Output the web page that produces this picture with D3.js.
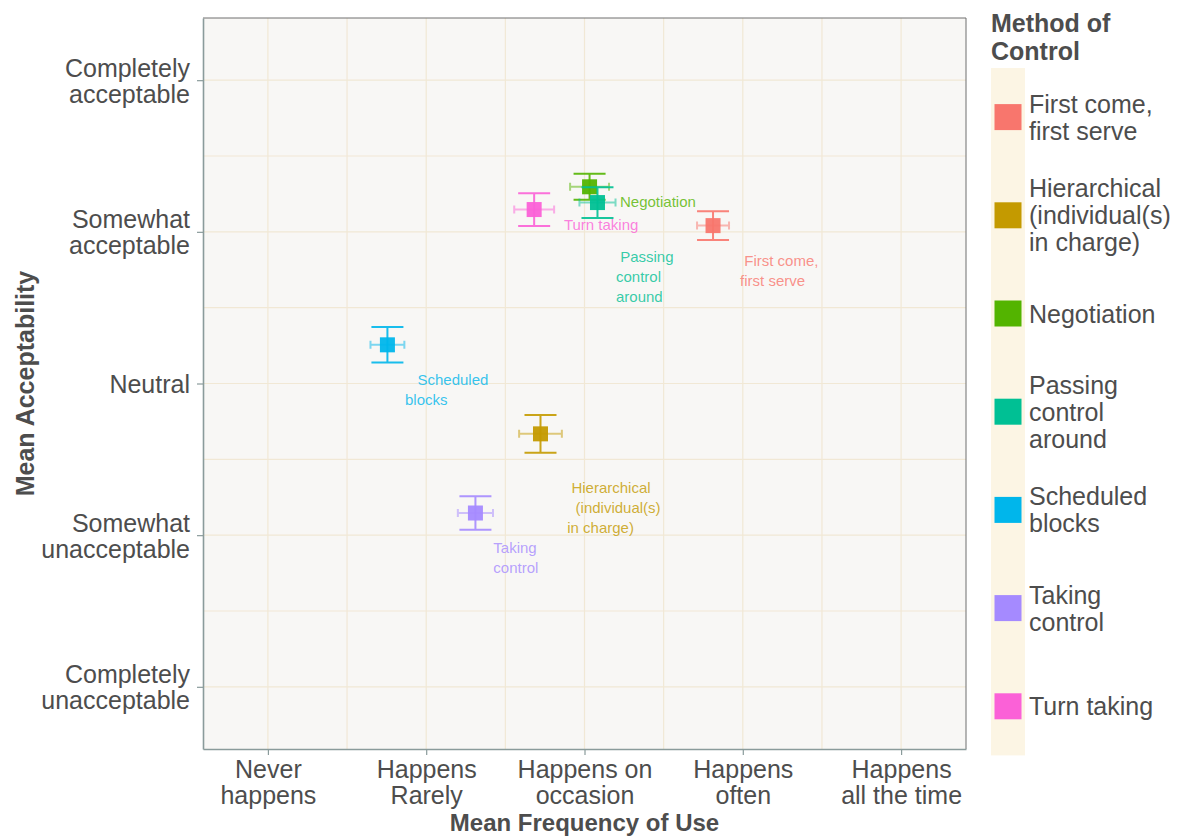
<!DOCTYPE html>
<html>
<head>
<meta charset="utf-8">
<script src="https://cdn.jsdelivr.net/npm/d3@7"></script>
<style>
  html, body { margin: 0; padding: 0; background: #ffffff; }
  svg { display: block; font-family: "Liberation Sans", Arial, Helvetica, sans-serif; }
  .lbl { white-space: pre; }
</style>
</head>
<body>
<svg id="chart" width="1189" height="836"></svg>
<script>
// Methods of control, in legend order
const methods = [
  "First come, first serve",
  "Hierarchical (individual(s) in charge)",
  "Negotiation",
  "Passing control around",
  "Scheduled blocks",
  "Taking control",
  "Turn taking"
];
const methodColors = ["#F8766D", "#C49A00", "#53B400", "#00C094", "#00B6EB", "#A58AFF", "#FB61D7"];

// Mean frequency of use (1 = never ... 5 = all the time) and its standard error
const meanFrequency = [3.812, 2.722, 3.032, 3.082, 1.755, 2.311, 2.682];
const seFrequency   = [0.101, 0.135, 0.123, 0.114, 0.107, 0.111, 0.126];

// Mean acceptability (1 = completely unacceptable ... 5 = completely acceptable) and its standard error
const meanAcceptability = [4.041, 2.668, 4.297, 4.193, 3.255, 2.146, 4.147];
const seAcceptability   = [0.094, 0.125, 0.086, 0.101, 0.117, 0.110, 0.108];

// Point annotations: text lines and where each block of text starts (data units)
const annotationLines = [
  [" First come,", "first serve"],
  [" Hierarchical", "  (individual(s)", "in charge)"],
  ["Negotiation"],
  [" Passing", "control", "around"],
  ["   Scheduled", "blocks"],
  ["Taking", "control"],
  ["Turn taking"]
];
const annotationX = [3.983, 2.891, 3.224, 3.199, 1.866, 2.424, 2.870];
const annotationY = [3.774, 2.279, 4.164, 3.801, 2.993, 1.883, 4.012];

// Axis tick labels
const freqTicks = [1, 2, 3, 4, 5];
const freqTickLabels = [["Never", "happens"], ["Happens", "Rarely"], ["Happens on", "occasion"], ["Happens", "often"], ["Happens", "all the time"]];
const accTicks = [1, 2, 3, 4, 5];
const accTickLabels = [["Completely", "unacceptable"], ["Somewhat", "unacceptable"], ["Neutral"], ["Somewhat", "acceptable"], ["Completely", "acceptable"]];

// Legend labels, wrapped
const legendLines = [
  ["First come,", "first serve"],
  ["Hierarchical", "(individual(s)", "in charge)"],
  ["Negotiation"],
  ["Passing", "control", "around"],
  ["Scheduled", "blocks"],
  ["Taking", "control"],
  ["Turn taking"]
];

const svg = d3.select("#chart");
const panel = { left: 203, right: 966, top: 18, bottom: 749 };

const x = d3.scaleLinear().domain([0.59, 5.41]).range([panel.left, panel.right]);
const y = d3.scaleLinear().domain([0.59, 5.41]).range([panel.bottom, panel.top]);
const color = d3.scaleOrdinal().domain(methods).range(methodColors);

const data = methods.map((m, i) => ({
  method: m,
  fx: meanFrequency[i], fse: seFrequency[i],
  ay: meanAcceptability[i], ase: seAcceptability[i],
  lines: annotationLines[i], lx: annotationX[i], ly: annotationY[i]
}));

// Panel background
svg.append("rect")
  .attr("x", panel.left).attr("y", panel.top)
  .attr("width", panel.right - panel.left).attr("height", panel.bottom - panel.top)
  .attr("fill", "#f8f7f5");

// Grid lines: major at ticks, minor halfway between
const gridColor = "#f1e8d5";
const minor = [1.5, 2.5, 3.5, 4.5];
const grid = svg.append("g");
grid.selectAll(".gvx").data(freqTicks.concat(minor)).join("line")
  .attr("x1", d => x(d)).attr("x2", d => x(d))
  .attr("y1", panel.top).attr("y2", panel.bottom)
  .attr("stroke", gridColor).attr("stroke-width", 1.2);
grid.selectAll(".ghy").data(accTicks.concat(minor)).join("line")
  .attr("y1", d => y(d)).attr("y2", d => y(d))
  .attr("x1", panel.left).attr("x2", panel.right)
  .attr("stroke", gridColor).attr("stroke-width", 1.2);

// Panel border (top / right)
svg.append("path")
  .attr("d", `M${panel.left},${panel.top}H${panel.right}V${panel.bottom}`)
  .attr("fill", "none").attr("stroke", "#6e6e6e").attr("stroke-width", 1);

// Axes
const axisColor = "#8a9b9b";
const xAxis = svg.append("g").attr("transform", `translate(0,${panel.bottom})`)
  .call(d3.axisBottom(x).tickValues(freqTicks).tickSize(6).tickSizeOuter(0).tickFormat(""));
const yAxis = svg.append("g").attr("transform", `translate(${panel.left},0)`)
  .call(d3.axisLeft(y).tickValues(accTicks).tickSize(6).tickSizeOuter(0).tickFormat(""));
[xAxis, yAxis].forEach(a => {
  a.select(".domain").attr("stroke", axisColor).attr("stroke-width", 1.6);
  a.selectAll(".tick line").attr("stroke", axisColor).attr("stroke-width", 1.2);
});

const tickFont = 25, tickLH = 26;
// x tick labels
xAxis.selectAll(".tick").each(function(d, i) {
  const t = d3.select(this).append("text")
    .attr("fill", "#4d4d4d").attr("font-size", tickFont).attr("text-anchor", "middle");
  freqTickLabels[i].forEach((line, j) => {
    t.append("tspan").attr("x", 0).attr("y", 29 + j * tickLH).text(line);
  });
});
// y tick labels
yAxis.selectAll(".tick").each(function(d, i) {
  const lines = accTickLabels[i];
  const t = d3.select(this).append("text")
    .attr("fill", "#4d4d4d").attr("font-size", tickFont).attr("text-anchor", "end");
  const first = -(lines.length - 1) / 2 * tickLH + 9;
  lines.forEach((line, j) => {
    t.append("tspan").attr("x", -13).attr("y", first + j * tickLH).text(line);
  });
});

// Axis titles
svg.append("text")
  .attr("x", (panel.left + panel.right) / 2).attr("y", 831)
  .attr("text-anchor", "middle").attr("font-size", 24).attr("font-weight", "bold")
  .attr("fill", "#4d4d4d").text("Mean Frequency of Use");
svg.append("text")
  .attr("transform", `translate(34,${(panel.top + panel.bottom) / 2}) rotate(-90)`)
  .attr("text-anchor", "middle").attr("font-size", 25).attr("font-weight", "bold")
  .attr("fill", "#4d4d4d").text("Mean Acceptability");

// Error bars and points
const marks = svg.append("g");
const pts = marks.selectAll("g.pt").data(data).join("g").attr("class", "pt");

// horizontal (frequency) error bars, lighter
pts.append("path")
  .attr("d", d => {
    const x0 = x(d.fx - d.fse), x1 = x(d.fx + d.fse), yc = y(d.ay);
    return `M${x0},${yc}H${x1}M${x0},${yc - 4}V${yc + 4}M${x1},${yc - 4}V${yc + 4}`;
  })
  .attr("fill", "none").attr("stroke", d => color(d.method))
  .attr("stroke-opacity", 0.5).attr("stroke-width", 2);

// vertical (acceptability) error bars
pts.append("path")
  .attr("d", d => {
    const y0 = y(d.ay - d.ase), y1 = y(d.ay + d.ase), xc = x(d.fx);
    return `M${xc},${y0}V${y1}M${xc - 16},${y0}H${xc + 16}M${xc - 16},${y1}H${xc + 16}`;
  })
  .attr("fill", "none").attr("stroke", d => color(d.method))
  .attr("stroke-opacity", 0.9).attr("stroke-width", 2);

// square markers
pts.append("rect")
  .attr("x", d => x(d.fx) - 7.5).attr("y", d => y(d.ay) - 7.5)
  .attr("width", 15).attr("height", 15)
  .attr("fill", d => color(d.method)).attr("fill-opacity", 0.95);

// Point annotations
const ann = svg.append("g");
data.forEach(d => {
  const t = ann.append("text").attr("class", "lbl")
    .attr("font-size", 15).attr("fill", color(d.method)).attr("fill-opacity", 0.8)
    .attr("xml:space", "preserve");
  d.lines.forEach((line, j) => {
    t.append("tspan").attr("x", x(d.lx)).attr("y", y(d.ly) + j * 20).text(line);
  });
});

// Legend
const legend = svg.append("g");
legend.append("text").attr("font-size", 25).attr("font-weight", "bold").attr("fill", "#4d4d4d")
  .selectAll("tspan").data(["Method of", "Control"]).join("tspan")
  .attr("x", 991).attr("y", (d, i) => 32 + i * 28).text(d => d);

const keyTop = 68, keyStep = 98.2;
legend.append("rect")
  .attr("x", 991).attr("y", keyTop).attr("width", 34).attr("height", keyStep * methods.length)
  .attr("fill", "#fcf5e4");

methods.forEach((m, i) => {
  const cy = keyTop + keyStep * (i + 0.5);
  legend.append("rect")
    .attr("x", 994.5).attr("y", cy - 13).attr("width", 27).attr("height", 26)
    .attr("fill", color(m));
  const lines = legendLines[i];
  const first = cy - (lines.length - 1) / 2 * 27 + 9;
  const t = legend.append("text").attr("font-size", 25).attr("fill", "#4d4d4d");
  lines.forEach((line, j) => {
    t.append("tspan").attr("x", 1029).attr("y", first + j * 27).text(line);
  });
});
</script>
</body>
</html>
